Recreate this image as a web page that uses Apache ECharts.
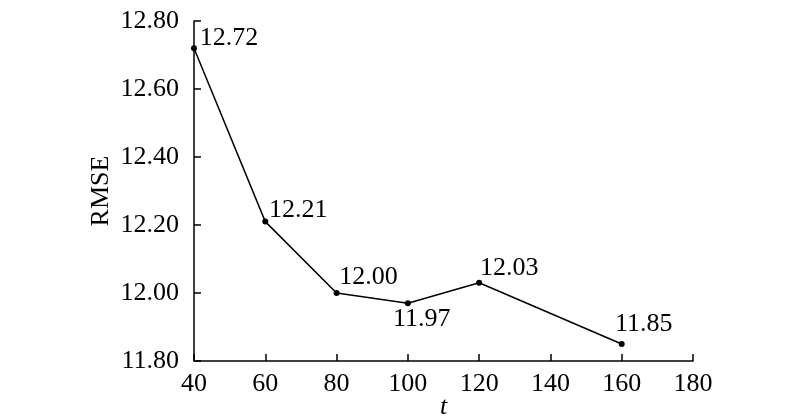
<!DOCTYPE html>
<html><head><meta charset="utf-8">
<script src="https://cdn.jsdelivr.net/npm/echarts@6/dist/echarts.min.js"></script>
<style>html,body{margin:0;padding:0;background:#fff}#c{width:800px;height:418px}</style>
</head><body><div id="c"></div>
<script>
const tValues = [40, 60, 80, 100, 120, 160];
const rmseValues = [12.72, 12.21, 12.00, 11.97, 12.03, 11.85];
const labelOffsets = [[35, -11], [33, -12], [32, -17], [14, 15], [30, -16], [22, -21]];

const font = '"Liberation Serif", "Times New Roman", serif';
const chart = echarts.init(document.getElementById('c'));
chart.setOption({
  animation: false,
  backgroundColor: '#fff',
  grid: { left: 194, right: 107, top: 21, bottom: 57, outerBoundsMode: 'none', containLabel: false },
  xAxis: {
    type: 'value', min: 40, max: 180, interval: 20,
    name: 't', nameLocation: 'middle', nameGap: 33, nameMoveOverlap: false,
    nameTextStyle: { fontFamily: font, fontSize: 26, fontStyle: 'italic', color: '#000' },
    axisLine: { lineStyle: { color: '#000', width: 1.5 } },
    axisTick: { inside: true, length: 7, lineStyle: { color: '#000', width: 1.5 } },
    axisLabel: { fontFamily: font, fontSize: 26, color: '#000', margin: 10 },
    splitLine: { show: false }
  },
  yAxis: {
    type: 'value', min: 11.8, max: 12.8, interval: 0.2,
    name: 'RMSE', nameLocation: 'middle', nameGap: 80, nameMoveOverlap: false,
    nameTextStyle: { fontFamily: font, fontSize: 26, color: '#000' },
    axisLine: { show: true, lineStyle: { color: '#000', width: 1.5 } },
    axisTick: { show: true, inside: true, length: 7, lineStyle: { color: '#000', width: 1.5 } },
    axisLabel: { fontFamily: font, fontSize: 26, color: '#000', margin: 15, formatter: v => v.toFixed(2) },
    splitLine: { show: false }
  },
  series: [{
    type: 'line',
    data: tValues.map((t, i) => ({
      value: [t, rmseValues[i]],
      label: { offset: [labelOffsets[i][0], labelOffsets[i][1] + 1] }
    })),
    symbol: 'circle', symbolSize: 6,
    itemStyle: { color: '#000' },
    lineStyle: { color: '#000', width: 1.5 },
    label: {
      show: true, position: 'inside', align: 'center', verticalAlign: 'middle',
      fontFamily: font, fontSize: 26, color: '#000',
      formatter: p => p.value[1].toFixed(2)
    }
  }]
});
</script></body></html>
